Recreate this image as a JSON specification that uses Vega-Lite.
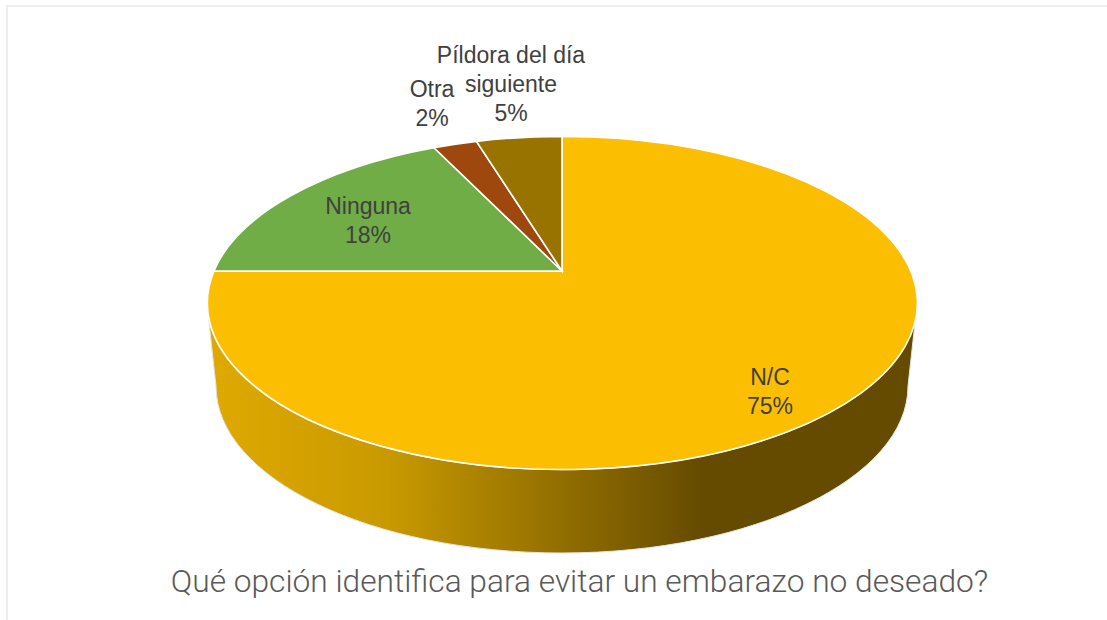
{
  "$schema": "https://vega.github.io/schema/vega-lite/v6.json",
  "width": 1103,
  "height": 617,
  "autosize": {"type": "none"},
  "padding": {"left": 7, "top": 6, "right": -3, "bottom": -3},
  "background": "white",
  "view": {"stroke": "#eeeeee", "strokeWidth": 2},
  "title": {
    "text": "Qué opción identifica para evitar un embarazo no deseado?",
    "orient": "bottom",
    "anchor": "middle",
    "offset": -31,
    "dx": 21,
    "baseline": "alphabetic",
    "font": "Roboto",
    "fontWeight": 300,
    "fontSize": 31.7,
    "color": "#595959"
  },
  "data": {
    "values": [
      {"opcion": "N/C", "porcentaje": 75},
      {"opcion": "Ninguna", "porcentaje": 17.9},
      {"opcion": "Otra", "porcentaje": 2.4},
      {"opcion": "Píldora del día\nsiguiente", "porcentaje": 4.7}
    ]
  },
  "transform": [
    {"window": [{"op": "sum", "field": "porcentaje", "as": "acum"}]},
    {"joinaggregate": [{"op": "sum", "field": "porcentaje", "as": "total"}]},
    {"calculate": "(datum.acum - datum.porcentaje) / datum.total * 2 * PI", "as": "a0"},
    {"calculate": "datum.acum / datum.total * 2 * PI", "as": "a1"},
    {"calculate": "round(34800 * sin(datum.a0) / (1 + 0.1922 * cos(datum.a0))) / 100 + ' ' + round(-(16650 * cos(datum.a0) + 3200) / (1 + 0.1922 * cos(datum.a0))) / 100", "as": "p0"},
    {"calculate": "round(34800 * sin(datum.a1) / (1 + 0.1922 * cos(datum.a1))) / 100 + ' ' + round(-(16650 * cos(datum.a1) + 3200) / (1 + 0.1922 * cos(datum.a1))) / 100", "as": "p1"},
    {"calculate": "'M0 -32L' + datum.p0 + 'A355 166.5 0 ' + (datum.a1 - datum.a0 > PI ? '1' : '0') + ' 1 ' + datum.p1 + 'Z'", "as": "cuna"},
    {"calculate": "datum.opcion + '\\n' + round(datum.porcentaje / datum.total * 100) + '%'", "as": "etiqueta"}
  ],
  "layer": [
    {
      "transform": [
        {"filter": "datum.opcion === 'N/C'"},
        {"calculate": "'M-353.4 16A355 166.5 0 0 0 353.4 16L346 83A346 167 0 0 1 -346 83Z'", "as": "lateral"}
      ],
      "mark": {
        "type": "point",
        "filled": true,
        "opacity": 1,
        "xOffset": 3.5,
        "yOffset": -11.5,
        "stroke": "#e4e4e4",
        "strokeWidth": 1,
        "fill": {
          "gradient": "linear",
          "x1": 0, "y1": 0, "x2": 1, "y2": 0,
          "stops": [
            {"offset": 0, "color": "#dfa900"},
            {"offset": 0.25, "color": "#c99a00"},
            {"offset": 0.7, "color": "#654b00"},
            {"offset": 1, "color": "#654b00"}
          ]
        }
      },
      "encoding": {
        "shape": {"field": "lateral", "type": "nominal", "scale": null, "legend": null},
        "size": {"value": 4}
      }
    },
    {
      "mark": {"type": "point", "filled": true, "opacity": 1, "xOffset": 3.5, "yOffset": -11.5, "stroke": "white", "strokeWidth": 1.6},
      "encoding": {
        "shape": {"field": "cuna", "type": "nominal", "scale": null, "legend": null},
        "size": {"value": 4},
        "fill": {
          "field": "opcion",
          "type": "nominal",
          "legend": null,
          "scale": {
            "domain": ["N/C", "Ninguna", "Otra", "Píldora del día\nsiguiente"],
            "range": ["#FBBE00", "#70AD47", "#9E480E", "#997300"]
          }
        }
      }
    },
    {
      "transform": [{"filter": "datum.opcion === 'N/C'"}],
      "mark": {"type": "text", "font": "Liberation Sans", "fontSize": 23, "color": "#404040", "lineBreak": "\n", "lineHeight": 29, "baseline": "middle", "xOffset": 211.5, "yOffset": 63.5},
      "encoding": {"text": {"field": "etiqueta"}}
    },
    {
      "transform": [{"filter": "datum.opcion === 'Ninguna'"}],
      "mark": {"type": "text", "font": "Liberation Sans", "fontSize": 23, "color": "#404040", "lineBreak": "\n", "lineHeight": 29, "baseline": "middle", "xOffset": -190.5, "yOffset": -107.5},
      "encoding": {"text": {"field": "etiqueta"}}
    },
    {
      "transform": [{"filter": "datum.opcion === 'Otra'"}],
      "mark": {"type": "text", "font": "Liberation Sans", "fontSize": 23, "color": "#404040", "lineBreak": "\n", "lineHeight": 29, "baseline": "middle", "xOffset": -126.5, "yOffset": -224.5},
      "encoding": {"text": {"field": "etiqueta"}}
    },
    {
      "transform": [{"filter": "datum.opcion === 'Píldora del día\\nsiguiente'"}],
      "mark": {"type": "text", "font": "Liberation Sans", "fontSize": 23, "color": "#404040", "lineBreak": "\n", "lineHeight": 29, "baseline": "middle", "xOffset": -47.5, "yOffset": -259},
      "encoding": {"text": {"field": "etiqueta"}}
    }
  ]
}
